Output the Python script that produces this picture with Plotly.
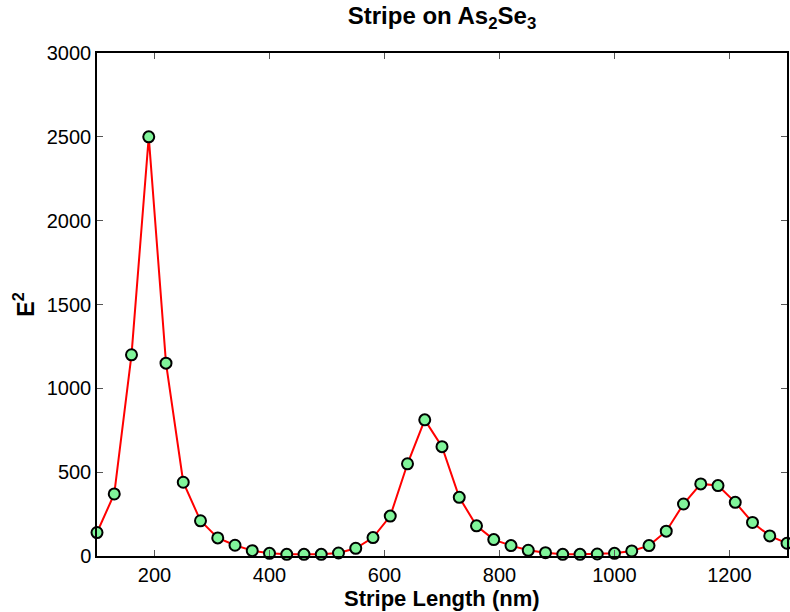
import plotly.graph_objects as go

stripe_length_nm = [100, 130, 160, 190, 220, 250, 280, 310, 340, 370, 400, 430, 460, 490,
                    520, 550, 580, 610, 640, 670, 700, 730, 760, 790, 820, 850, 880, 910,
                    940, 970, 1000, 1030, 1060, 1090, 1120, 1150, 1180, 1210, 1240, 1270, 1300]
e_squared = [140, 370, 1200, 2500, 1150, 440, 210, 108, 64, 32, 16, 10, 10, 10,
             18, 46, 110, 238, 550, 812, 652, 350, 180, 98, 62, 34, 20, 10,
             10, 12, 16, 30, 62, 148, 310, 430, 420, 320, 200, 120, 76]
x_ticks = [200, 400, 600, 800, 1000, 1200]
y_ticks = [0, 500, 1000, 1500, 2000, 2500, 3000]

fig = go.Figure()
fig.add_trace(go.Scatter(
    x=stripe_length_nm, y=e_squared, mode="lines+markers",
    line=dict(color="#ff0000", width=2),
    marker=dict(size=11, color="#80f59a", line=dict(color="black", width=2)),
    cliponaxis=False, showlegend=False))

font = dict(family="Liberation Sans, Arial, sans-serif", color="black")
fig.update_layout(
    width=790, height=612,
    margin=dict(l=97, r=1, t=53, b=56),
    paper_bgcolor="white", plot_bgcolor="white",
    font=dict(**font, size=20),
    title=dict(text="<b>Stripe on As<sub>2</sub>Se<sub>3</sub></b>",
               x=0.5, xanchor="center", xref="paper", y=0.988, yanchor="top",
               font=dict(**font, size=24)),
    xaxis=dict(range=[100, 1300], tickvals=x_ticks, ticks="inside", ticklen=6,
               tickcolor="#555", showline=True, linecolor="black", linewidth=1.5,
               mirror="ticks", showgrid=False, zeroline=False,
               tickfont=dict(**font, size=20)),
    yaxis=dict(range=[0, 3000], tickvals=y_ticks, ticks="inside", ticklen=6,
               tickcolor="#555", showline=True, linecolor="black", linewidth=1.5,
               mirror="ticks", showgrid=False, zeroline=False,
               tickfont=dict(**font, size=20),
               title=dict(text="<b>E<sup>2</sup></b>", standoff=6,
                          font=dict(**font, size=23))),
    annotations=[dict(text="<b>Stripe Length (nm)</b>", xref="paper", yref="paper",
                      x=0.5, y=0, xanchor="center", yanchor="top", yshift=-28,
                      showarrow=False, font=dict(**font, size=22))],
)
fig.write_html("out.html")
